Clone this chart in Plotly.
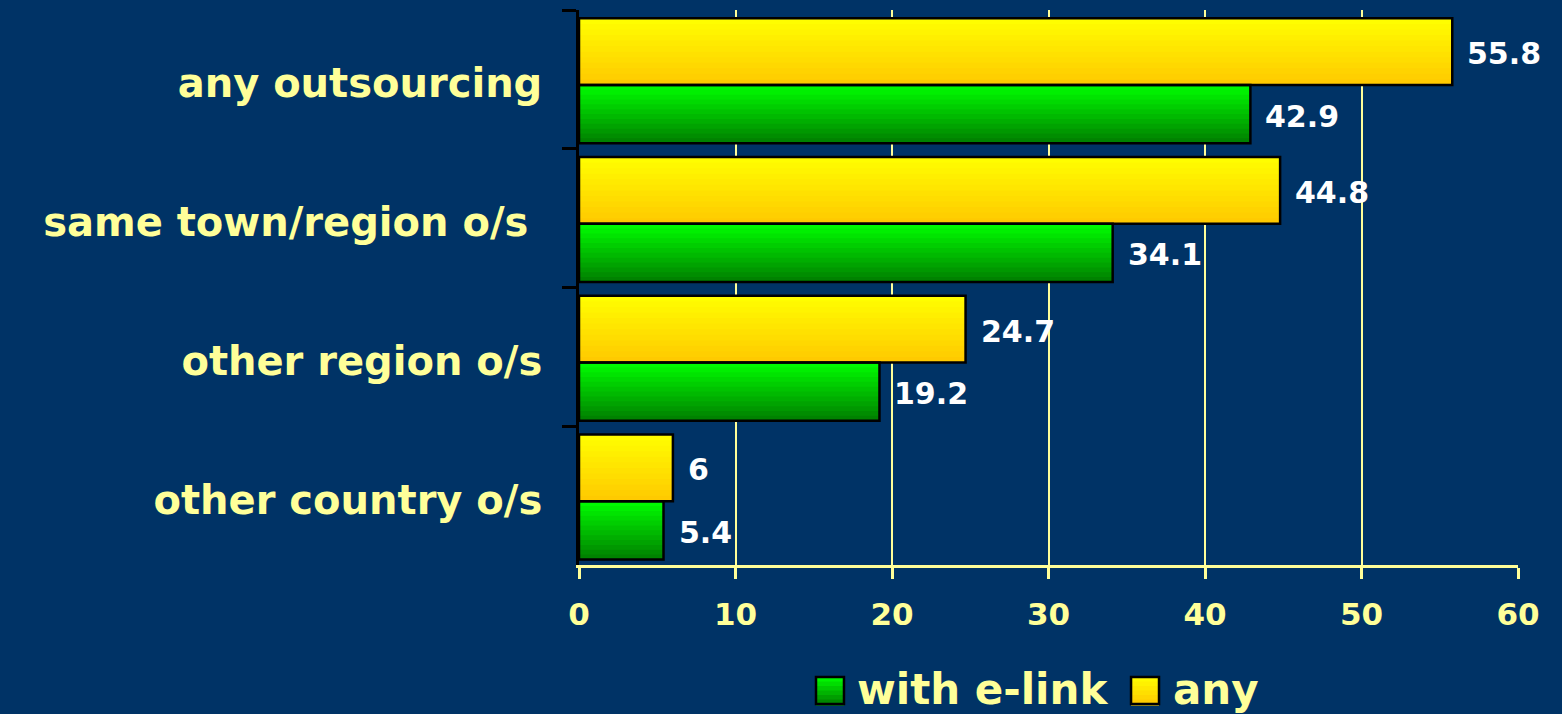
import plotly.graph_objects as go

# ---------------- data ----------------
categories = ["any outsourcing", "same town/region o/s\u00a0", "other region o/s", "other country o/s"]
any_vals = [55.8, 44.8, 24.7, 6]
elink_vals = [42.9, 34.1, 19.2, 5.4]
x_ticks = [0, 10, 20, 30, 40, 50, 60]
legend_names = ["with e-link", "any"]

# ---------------- style ----------------
BG = "#003366"
LBL = "#FFFF99"
FONT = "DejaVu Sans, Verdana, sans-serif"


def lerp(c1, c2, t):
    return "rgb(%d,%d,%d)" % tuple(round(a + (b - a) * t) for a, b in zip(c1, c2))


series = [
    dict(vals=any_vals, top=(255, 255, 0), bot=(255, 200, 0), o0=-0.44, o1=0.04),
    dict(vals=elink_vals, top=(0, 255, 0), bot=(0, 125, 0), o0=0.04, o1=0.46),
]
N = 12
OVERLAP = 0.016  # in category units (~2 px)

fig = go.Figure()
for s in series:
    w = (s["o1"] - s["o0"]) / N
    for k in range(N):
        col = lerp(s["top"], s["bot"], (k + 0.5) / N)
        fig.add_trace(go.Bar(
            x=s["vals"], y=categories, orientation="h",
            offset=s["o0"] + k * w, width=w + (OVERLAP if k < N - 1 else 0.0),
            marker=dict(color=col, line=dict(width=0)),
            showlegend=False, hoverinfo="skip",
        ))
for s in series:
    fig.add_trace(go.Bar(
        x=s["vals"], y=categories, orientation="h",
        offset=s["o0"], width=s["o1"] - s["o0"],
        marker=dict(color="rgba(0,0,0,0)", line=dict(color="black", width=2.5)),
        showlegend=False, hoverinfo="skip",
    ))

annotations = []
for s in series:
    mid = (s["o0"] + s["o1"]) / 2
    for i, v in enumerate(s["vals"]):
        annotations.append(dict(
            x=v, y=i + mid, xref="x", yref="y", text=f"{v:g}", showarrow=False,
            xanchor="left", yanchor="middle", xshift=13, yshift=-2,
            font=dict(size=30, color="white", family=FONT, weight="bold"),
        ))

# ---------------- manual legend ----------------
shapes = []
leg_items = [
    (legend_names[0], (0, 255, 0), (0, 125, 0), 0.2524, 0.2940),
    (legend_names[1], (255, 255, 0), (255, 200, 0), 0.5879, 0.6300),
]
sq_w = 0.0298
y_top, y_bot = -0.2018, -0.2505
M = 6
for name, ctop, cbot, x0, xt in leg_items:
    h = (y_top - y_bot) / M
    for k in range(M):
        shapes.append(dict(
            type="rect", xref="paper", yref="paper",
            x0=x0, x1=x0 + sq_w, y0=y_top - (k + 1) * h - 0.003, y1=y_top - k * h,
            fillcolor=lerp(ctop, cbot, (k + 0.5) / M), line=dict(width=0), layer="above",
        ))
    shapes.append(dict(
        type="rect", xref="paper", yref="paper",
        x0=x0, x1=x0 + sq_w, y0=y_bot, y1=y_top,
        fillcolor="rgba(0,0,0,0)", line=dict(color="black", width=2.5), layer="above",
    ))
    annotations.append(dict(
        x=xt, y=-0.225, xref="paper", yref="paper", text=name, showarrow=False,
        xanchor="left", yanchor="middle",
        font=dict(size=42, color=LBL, family=FONT, weight="bold"),
    ))

fig.update_layout(
    width=1562, height=714,
    margin=dict(l=579, r=44, t=10, b=149, pad=0),
    paper_bgcolor=BG, plot_bgcolor=BG,
    barmode="overlay",
    showlegend=False,
    annotations=annotations,
    shapes=shapes,
    xaxis=dict(
        range=[0, 60], tickvals=x_ticks, showgrid=True, gridcolor=LBL, gridwidth=2,
        showline=True, linecolor=LBL, linewidth=2.5, zeroline=False,
        ticks="outside", ticklen=11, tickwidth=2.5, tickcolor=LBL,
        ticklabelstandoff=9,
        tickfont=dict(size=31, color=LBL, family=FONT, weight="bold"),
        fixedrange=True,
    ),
    yaxis=dict(
        type="category", categoryorder="array", categoryarray=categories,
        range=[3.5, -0.5], showgrid=False, zeroline=False,
        showline=True, linecolor="black", linewidth=2.5,
        ticks="outside", tickson="boundaries", ticklen=14, tickwidth=2.5, tickcolor="black",
        ticklabelstandoff=26, ticklabelshift=-4,
        tickfont=dict(size=40, color=LBL, family=FONT, weight="bold"),
        fixedrange=True,
    ),
)

fig.write_html(
    "out.html",
    config={"displayModeBar": False},
    post_script="document.body.style.margin='0';document.body.style.overflow='hidden';",
)
